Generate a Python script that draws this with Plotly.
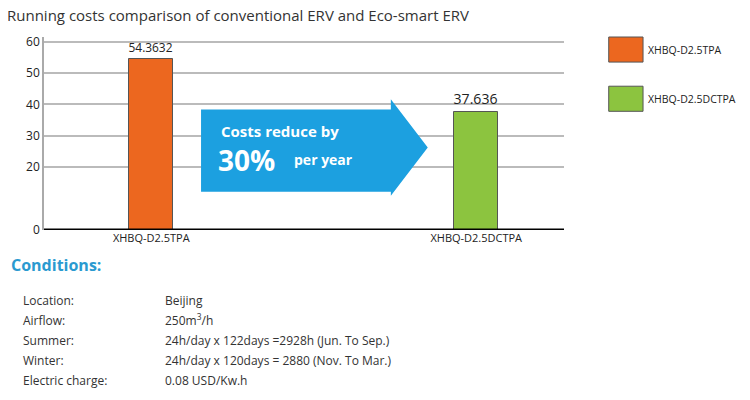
import plotly.graph_objects as go

# data
models = ['XHBQ-D2.5TPA', 'XHBQ-D2.5DCTPA']
costs = [54.3632, 37.636]
colors = ['#EC671F', '#8CC43F']
y_ticks = [0, 20, 30, 40, 50, 60]
cond_labels = ['Location:', 'Airflow:', 'Summer:', 'Winter:', 'Electric charge:']
cond_values = ['Beijing', '250m<sup>3</sup>/h', '24h/day x 122days =2928h (Jun. To Sep.)',
               '24h/day x 120days = 2880 (Nov. To Mar.)', '0.08 USD/Kw.h']

font = 'Open Sans, Arial'

fig = go.Figure()
fig.add_trace(go.Bar(
    x=[0, 1], y=costs, width=0.135,
    marker=dict(color=colors, line=dict(color='#555', width=1)),
    text=[str(c) for c in costs], textposition='outside',
    textfont=dict(size=16, color='#222', family=font),
    cliponaxis=False, showlegend=False, hoverinfo='skip'))

fig.update_layout(
    width=750, height=400,
    margin=dict(l=36, r=194, t=29, b=178),
    plot_bgcolor='white', paper_bgcolor='white',
    font=dict(family=font, color='#333'),
    bargap=0,
    xaxis=dict(range=[-0.33, 1.27], tickvals=[0, 1], ticktext=models,
               showgrid=False, zeroline=False, ticks='',
               tickfont=dict(size=11, color='#222')),
    yaxis=dict(range=[0, 61.5], tickvals=y_ticks, showgrid=True,
               gridcolor='#bbb', gridwidth=1.5, zeroline=False,
               showline=True, linecolor='#aaa', linewidth=1.5,
               ticks='', tickfont=dict(size=12, color='#222')),
)

# black baseline
fig.add_shape(type='line', xref='paper', yref='y', x0=0, x1=1, y0=0, y1=0,
              line=dict(color='black', width=3))

# title
fig.add_annotation(text='Running costs comparison of conventional ERV and Eco-smart ERV',
                   xref='paper', yref='paper', x=-0.075, y=1.175, xanchor='left',
                   showarrow=False, font=dict(size=15, color='#333'))

# blue arrow
fig.add_shape(type='path', xref='paper', yref='paper',
              path='M 0.302 0.625 L 0.667 0.625 L 0.667 0.677 L 0.738 0.427 '
                   'L 0.667 0.177 L 0.667 0.198 L 0.302 0.198 Z',
              fillcolor='#1CA0E0', line=dict(width=0), layer='above')
fig.add_annotation(text='<b>Costs reduce by</b>', xref='paper', yref='paper',
                   x=0.336, y=0.515, xanchor='left', showarrow=False,
                   font=dict(size=15, color='white'))
fig.add_annotation(text='<b>30%</b>', xref='paper', yref='paper',
                   x=0.33, y=0.365, xanchor='left', showarrow=False,
                   font=dict(size=28, color='white'))
fig.add_annotation(text='<b>per year</b>', xref='paper', yref='paper',
                   x=0.476, y=0.365, xanchor='left', showarrow=False,
                   font=dict(size=14, color='white'))

# legend
for i, (m, c) in enumerate(zip(models, colors)):
    y0 = 1.0 - i * 0.255
    fig.add_shape(type='rect', xref='paper', yref='paper',
                  x0=1.086, x1=1.152, y0=y0 - 0.13, y1=y0,
                  fillcolor=c, line=dict(color='#555', width=1))
    fig.add_annotation(text=m, xref='paper', yref='paper', x=1.158, y=y0 - 0.065,
                       xanchor='left', yanchor='middle', showarrow=False,
                       font=dict(size=10.5, color='#222'))

# conditions
fig.add_annotation(text='<b>Conditions:</b>', xref='paper', yref='paper',
                   x=-0.068, y=-0.25, xanchor='left', showarrow=False,
                   font=dict(size=16, color='#2A9AD0'))
for i, (lab, val) in enumerate(zip(cond_labels, cond_values)):
    yy = -0.42 - i * 0.103
    fig.add_annotation(text=lab, xref='paper', yref='paper', x=-0.045, y=yy,
                       xanchor='left', showarrow=False, font=dict(size=12, color='#333'))
    fig.add_annotation(text=val, xref='paper', yref='paper', x=0.229, y=yy,
                       xanchor='left', showarrow=False, font=dict(size=12, color='#333'))

fig.write_html('out.html')
